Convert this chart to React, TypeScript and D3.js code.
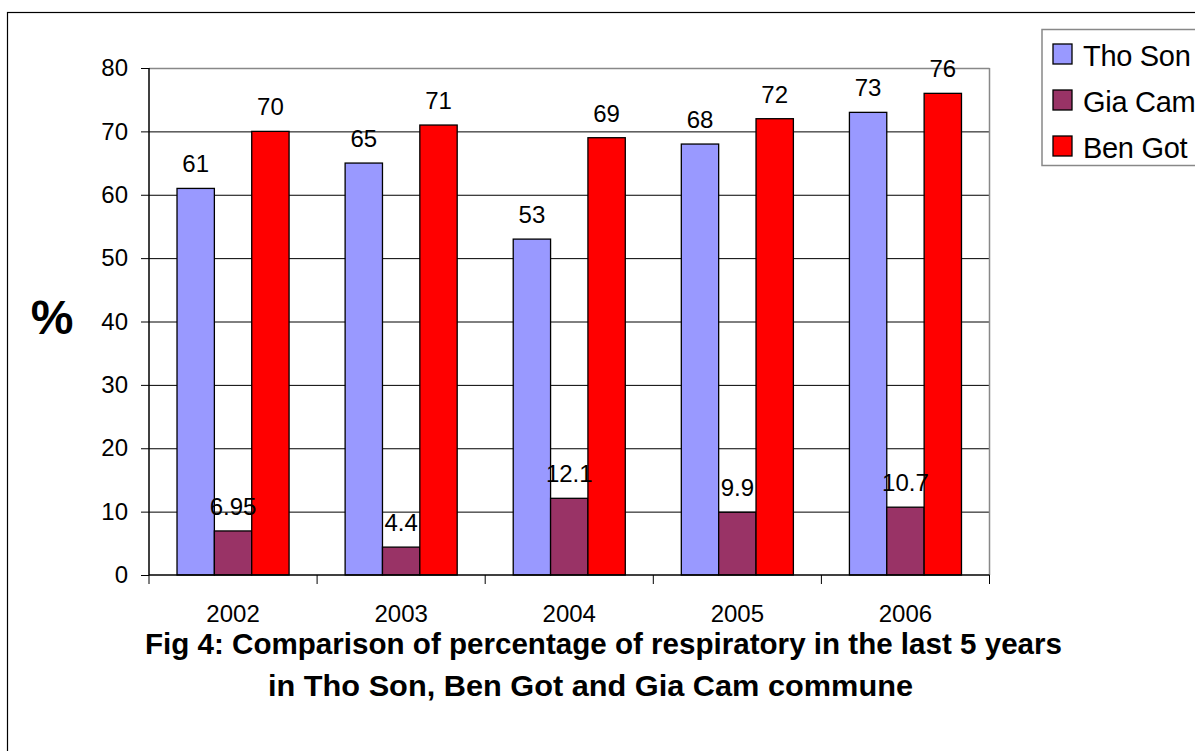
import { useRef, useEffect } from "react";
import * as d3 from "d3";

const years = ["2002", "2003", "2004", "2005", "2006"];
const seriesNames = ["Tho Son", "Gia Cam", "Ben Got"];
const thoSon = [61, 65, 53, 68, 73];
const giaCam = [6.95, 4.4, 12.1, 9.9, 10.7];
const benGot = [70, 71, 69, 72, 76];
const valueLabels = [
  ["61", "65", "53", "68", "73"],
  ["6.95", "4.4", "12.1", "9.9", "10.7"],
  ["70", "71", "69", "72", "76"],
];
const yTicks = [0, 10, 20, 30, 40, 50, 60, 70, 80];
const colors = ["#9999ff", "#993366", "#ff0000"];
const titleLines = [
  "Fig 4: Comparison of percentage of respiratory in the last 5 years",
  "in Tho Son, Ben Got and Gia Cam commune",
];

const W = 1195;
const H = 751;
const PLOT = { left: 149, right: 989.5, top: 68, bottom: 575 };
const FONT = "'Liberation Sans', Arial, sans-serif";

export default function App() {
  const svgRef = useRef<SVGSVGElement>(null);

  useEffect(() => {
    if (!svgRef.current) return;
    const svg = d3.select(svgRef.current);
    svg.selectAll("*").remove();

    const series = [thoSon, giaCam, benGot];

    // outer frame
    svg.append("rect")
      .attr("x", 7.5).attr("y", 12.5)
      .attr("width", W).attr("height", H)
      .attr("fill", "white").attr("stroke", "#000").attr("stroke-width", 1.2);

    const x0 = d3.scaleBand().domain(years).range([PLOT.left, PLOT.right]).padding(0);
    const bw = x0.bandwidth() / 4.5;
    const y = d3.scaleLinear().domain([0, 80]).range([PLOT.bottom, PLOT.top]);

    // gridlines
    svg.append("g").selectAll("line")
      .data(yTicks.filter((t) => t > 0))
      .join("line")
      .attr("x1", PLOT.left).attr("x2", PLOT.right)
      .attr("y1", (d) => y(d) + 0.5).attr("y2", (d) => y(d) + 0.5)
      .attr("stroke", (d) => (d === 80 ? "#888" : "#000")).attr("stroke-width", (d) => (d === 80 ? 1.5 : 1));

    // right border of plot area
    svg.append("line")
      .attr("x1", PLOT.right).attr("x2", PLOT.right)
      .attr("y1", PLOT.top).attr("y2", PLOT.bottom)
      .attr("stroke", "#888").attr("stroke-width", 1.5);

    // bars
    series.forEach((vals, si) => {
      svg.append("g").selectAll("rect")
        .data(vals)
        .join("rect")
        .attr("x", (_, i) => x0(years[i])! + 0.75 * bw + si * bw)
        .attr("y", (d) => y(d))
        .attr("width", bw)
        .attr("height", (d) => y(0) - y(d))
        .attr("fill", colors[si])
        .attr("stroke", "#000").attr("stroke-width", 1.3);
    });

    // value labels
    series.forEach((vals, si) => {
      svg.append("g").selectAll("text")
        .data(vals)
        .join("text")
        .attr("x", (_, i) => x0(years[i])! + 0.75 * bw + si * bw + bw / 2)
        .attr("y", (d) => y(d) - 16)
        .attr("text-anchor", "middle")
        .attr("font-family", FONT).attr("font-size", 24)
        .attr("fill", "#000")
        .text((_, i) => valueLabels[si][i]);
    });

    // y axis
    const yAxis = svg.append("g")
      .attr("transform", `translate(${PLOT.left},0)`)
      .call(d3.axisLeft(y).tickValues(yTicks).tickSize(8).tickPadding(13));
    yAxis.select(".domain").attr("stroke", "#000").attr("stroke-width", 1.5).attr("d", `M0,${PLOT.top}V${PLOT.bottom}`);
    yAxis.selectAll(".tick line").attr("stroke", "#000").attr("stroke-width", 1);
    yAxis.selectAll("text")
      .attr("font-family", FONT).attr("font-size", 24).attr("fill", "#000");

    // x axis
    const xAxis = svg.append("g").attr("transform", `translate(0,${PLOT.bottom})`);
    xAxis.append("line")
      .attr("x1", PLOT.left).attr("x2", PLOT.right)
      .attr("stroke", "#000").attr("stroke-width", 1.5);
    const bounds = [...years.map((yr) => x0(yr)!), PLOT.right];
    xAxis.selectAll("line.tk")
      .data(bounds)
      .join("line")
      .attr("class", "tk")
      .attr("x1", (d) => d).attr("x2", (d) => d)
      .attr("y1", 0).attr("y2", 9)
      .attr("stroke", "#000").attr("stroke-width", 1);
    xAxis.selectAll("text")
      .data(years)
      .join("text")
      .attr("x", (d) => x0(d)! + x0.bandwidth() / 2)
      .attr("y", 47)
      .attr("text-anchor", "middle")
      .attr("font-family", FONT).attr("font-size", 24).attr("fill", "#000")
      .text((d) => d);

    // y axis title
    svg.append("text")
      .attr("x", 52).attr("y", 334)
      .attr("text-anchor", "middle")
      .attr("font-family", FONT).attr("font-size", 48).attr("font-weight", "bold")
      .text("%");

    // title
    const titleX = [145, 268];
    const titleLen = [917, 645];
    const titleY = [654, 696];
    titleLines.forEach((t, i) => {
      svg.append("text")
        .attr("x", titleX[i]).attr("y", titleY[i])
        .attr("textLength", titleLen[i])
        .attr("lengthAdjust", "spacingAndGlyphs")
        .attr("font-family", FONT).attr("font-size", 30).attr("font-weight", "bold")
        .text(t);
    });

    // legend
    svg.append("rect")
      .attr("x", 1042).attr("y", 29.5)
      .attr("width", 200).attr("height", 136)
      .attr("fill", "white").attr("stroke", "#888").attr("stroke-width", 1.5);
    const leg = svg.append("g").selectAll("g")
      .data(seriesNames)
      .join("g")
      .attr("transform", (_, i) => `translate(1053,${44 + i * 46})`);
    leg.append("rect")
      .attr("width", 19).attr("height", 20)
      .attr("fill", (_, i) => colors[i])
      .attr("stroke", "#000").attr("stroke-width", 1.3);
    leg.append("text")
      .attr("x", 30).attr("y", 21.5)
      .attr("font-family", FONT).attr("font-size", 29)
      .attr("letter-spacing", -0.3)
      .text((d) => d);
  }, []);

  return (
    <>
      <style>{`body{margin:0;}`}</style>
      <svg ref={svgRef} width={W} height={H} style={{ display: "block" }} />
    </>
  );
}
